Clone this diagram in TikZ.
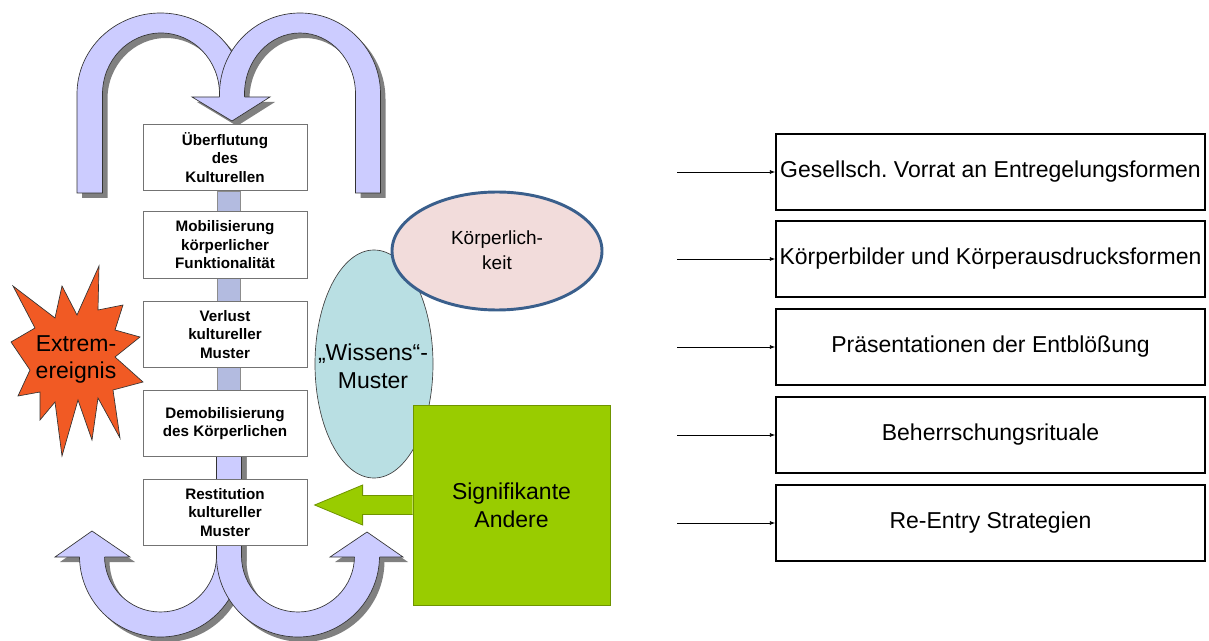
\documentclass[tikz,border=0pt]{standalone}
\usepackage{fontspec}
\setmainfont{Liberation Sans}
\usetikzlibrary{shapes.geometric,arrows.meta,calc}
\pgfdeclarelayer{bg}
\pgfsetlayers{bg,main}
\definecolor{lav}{HTML}{CCCCFF}
\definecolor{barc}{HTML}{B3BBE0}
\definecolor{shad}{HTML}{808080}
\definecolor{starc}{HTML}{F15A24}
\definecolor{grn}{HTML}{99CC00}
\definecolor{grnl}{HTML}{6F9400}
\definecolor{cyanl}{HTML}{B9DFE3}
\definecolor{pinkl}{HTML}{F2DCDB}
\definecolor{blueb}{HTML}{3A5F8C}
\frenchspacing
\begin{document}
\begin{tikzpicture}[x=0.75pt,y=-0.75pt,
  lbox/.style={draw=black!55, fill=white, line width=0.6pt, minimum width=123pt, minimum height=50pt, align=center, inner sep=0pt, font=\fontsize{11.4}{13.9}\selectfont\bfseries},
  rbox/.style={draw=black, line width=1.1pt, minimum width=321.75pt, minimum height=57pt, inner sep=0pt, font=\fontsize{17.25}{20}\selectfont},
  feed/.style={-{Latex[length=4pt,width=3pt]}, line width=0.6pt},
  bigtext/.style={align=center, inner sep=0pt, font=\fontsize{17.25}{21}\selectfont},
]
\useasboundingbox (0,0) rectangle (1209,641);

% left boxes
\node[lbox] (b1) at (225,157.5) {Überflutung\\des\\Kulturellen};
\node[lbox] (b2) at (225,245) {Mobilisierung\\körperlicher\\Funktionalität};
\node[lbox] (b3) at (225,334.5) {Verlust\\kultureller\\Muster};
\node[lbox] (b4) at (225,423.5) {Demobilisierung\\des Körperlichen};
\node[lbox] (b5) at (225,512.5) {Restitution\\kultureller\\Muster};

\begin{pgfonlayer}{bg}
  \path[fill=barc, draw=black!45, line width=0.4pt] ([xshift=-6pt]b1.south) rectangle ([xshift=11.25pt]b5.north);
  \foreach \d in {5,0}{
    \ifnum\d=5
      \tikzset{cur/.style={fill=shad,draw=none},curf/.style={fill=shad},curl/.style={draw=none}}
    \else
      \tikzset{cur/.style={fill=lav,draw=black!80,line width=0.5pt},curf/.style={fill=lav},curl/.style={draw=black!80,line width=0.5pt}}
    \fi
    \begin{scope}[shift={(\d,\d)}]
      % top left U
      \path[cur] (77,193) -- (77,94) arc[start angle=180,end angle=360,x radius=83.5,y radius=81] -- (244.5,104) -- (219.5,104) -- (219.5,94) arc[start angle=0,end angle=-180,x radius=58.5,y radius=61] -- (102.5,193) -- cycle;
      % top right U
      \path[cur] (380.5,193) -- (380.5,94) arc[start angle=0,end angle=-180,x radius=80.5,y radius=81] -- (219.5,104) -- (244.5,104) -- (244.5,94) arc[start angle=180,end angle=360,x radius=55.5,y radius=61] -- (355.5,193) -- cycle;
      \path[curf] (192,97) -- (270,97) -- (232,121) -- cycle;
      \path[curl] (219.5,97) -- (192,97) -- (232,121) -- (270,97) -- (244.5,97);
      % bottom left U
      \path[cur] (241.5,452) -- (241.5,556) arc[start angle=0,end angle=180,x radius=81,y radius=81] -- (79.5,550) -- (104.5,550) -- (104.5,556) arc[start angle=180,end angle=0,x radius=56,y radius=56] -- (216.5,452) -- cycle;
      \path[curf] (55,557) -- (92,531) -- (130,557) -- cycle;
      \path[curl] (79.5,557) -- (55,557) -- (92,531) -- (130,557) -- (104.5,557);
      % bottom right U
      \path[cur] (216.5,452) -- (216.5,556) arc[start angle=180,end angle=0,x radius=81.5,y radius=81] -- (379.5,550) -- (354.5,550) -- (354.5,556) arc[start angle=0,end angle=180,x radius=56.5,y radius=56] -- (241.5,452) -- cycle;
      \path[curf] (330,557) -- (367,532) -- (403,557) -- cycle;
      \path[curl] (354.5,557) -- (330,557) -- (367,532) -- (403,557) -- (379.5,557);
    \end{scope}
  }
\end{pgfonlayer}

% star
\draw[fill=starc, draw=black!80, line width=0.5pt]
  (99,266) -- (98,310) -- (123,305) -- (115,330) -- (140,337) -- (115,357) -- (143,382) -- (113,390)
  -- (120,438) -- (98,398) -- (92,440) -- (78,400) -- (62,456) -- (55,402) -- (40,420) -- (40,392)
  -- (18,396) -- (30,370) -- (11,342) -- (35,328) -- (13,286) -- (55,318) -- (62,286) -- (77,315) -- cycle;
\node[bigtext, font=\fontsize{17.25}{20.25}\selectfont] (ext) at (76,359) {Extrem-\\ereignis};

% ellipses
\node[ellipse, draw=black!75, line width=0.5pt, fill=cyanl, minimum width=88.5pt, minimum height=171pt, inner sep=0pt] (wis) at (374,364) {};
\node[bigtext] (wist) at (373,366) {„Wissens“-\\Muster};
\node[ellipse, draw=blueb, line width=2.2pt, fill=pinkl, minimum width=157.5pt, minimum height=88.5pt, inner sep=0pt] (kor) at (497,251) {};
\node[align=center, inner sep=0pt, font=\fontsize{14.25}{18.75}\selectfont] (kort) at (497,250) {Körperlich-\\keit};

% green box and arrow
\node[draw=grnl, fill=grn, line width=0.6pt, minimum width=147.75pt, minimum height=150pt, bigtext] (sig) at (511.5,505) {Signifikante\\Andere};
\draw[fill=grn, draw=grnl, line width=0.6pt]
  ($(sig.west)+(0,-9.5)$) -- ($(sig.west)+(-50,-9.5)$) -- ($(sig.west)+(-50,-20)$) -- ($(sig.west)+(-98,0)$)
  -- ($(sig.west)+(-50,20)$) -- ($(sig.west)+(-50,9.5)$) -- ($(sig.west)+(0,9.5)$);

% right boxes
\node[rbox] (r1) at (990.5,172) {Gesellsch. Vorrat an Entregelungsformen};
\node[rbox] (r2) at (990.5,259) {Körperbilder und Körperausdrucksformen};
\node[rbox] (r3) at (990.5,347) {Präsentationen der Entblößung};
\node[rbox] (r4) at (990.5,435) {Beherrschungsrituale};
\node[rbox] (r5) at (990.5,523) {Re-Entry Strategien};
\coordinate (s1) at (677,172);
\coordinate (s2) at (677,259);
\coordinate (s3) at (677,347);
\coordinate (s4) at (677,435);
\coordinate (s5) at (677,523);
\foreach \i in {1,...,5}{\draw[feed] (s\i) -- (r\i.west);}
\end{tikzpicture}
\end{document}
